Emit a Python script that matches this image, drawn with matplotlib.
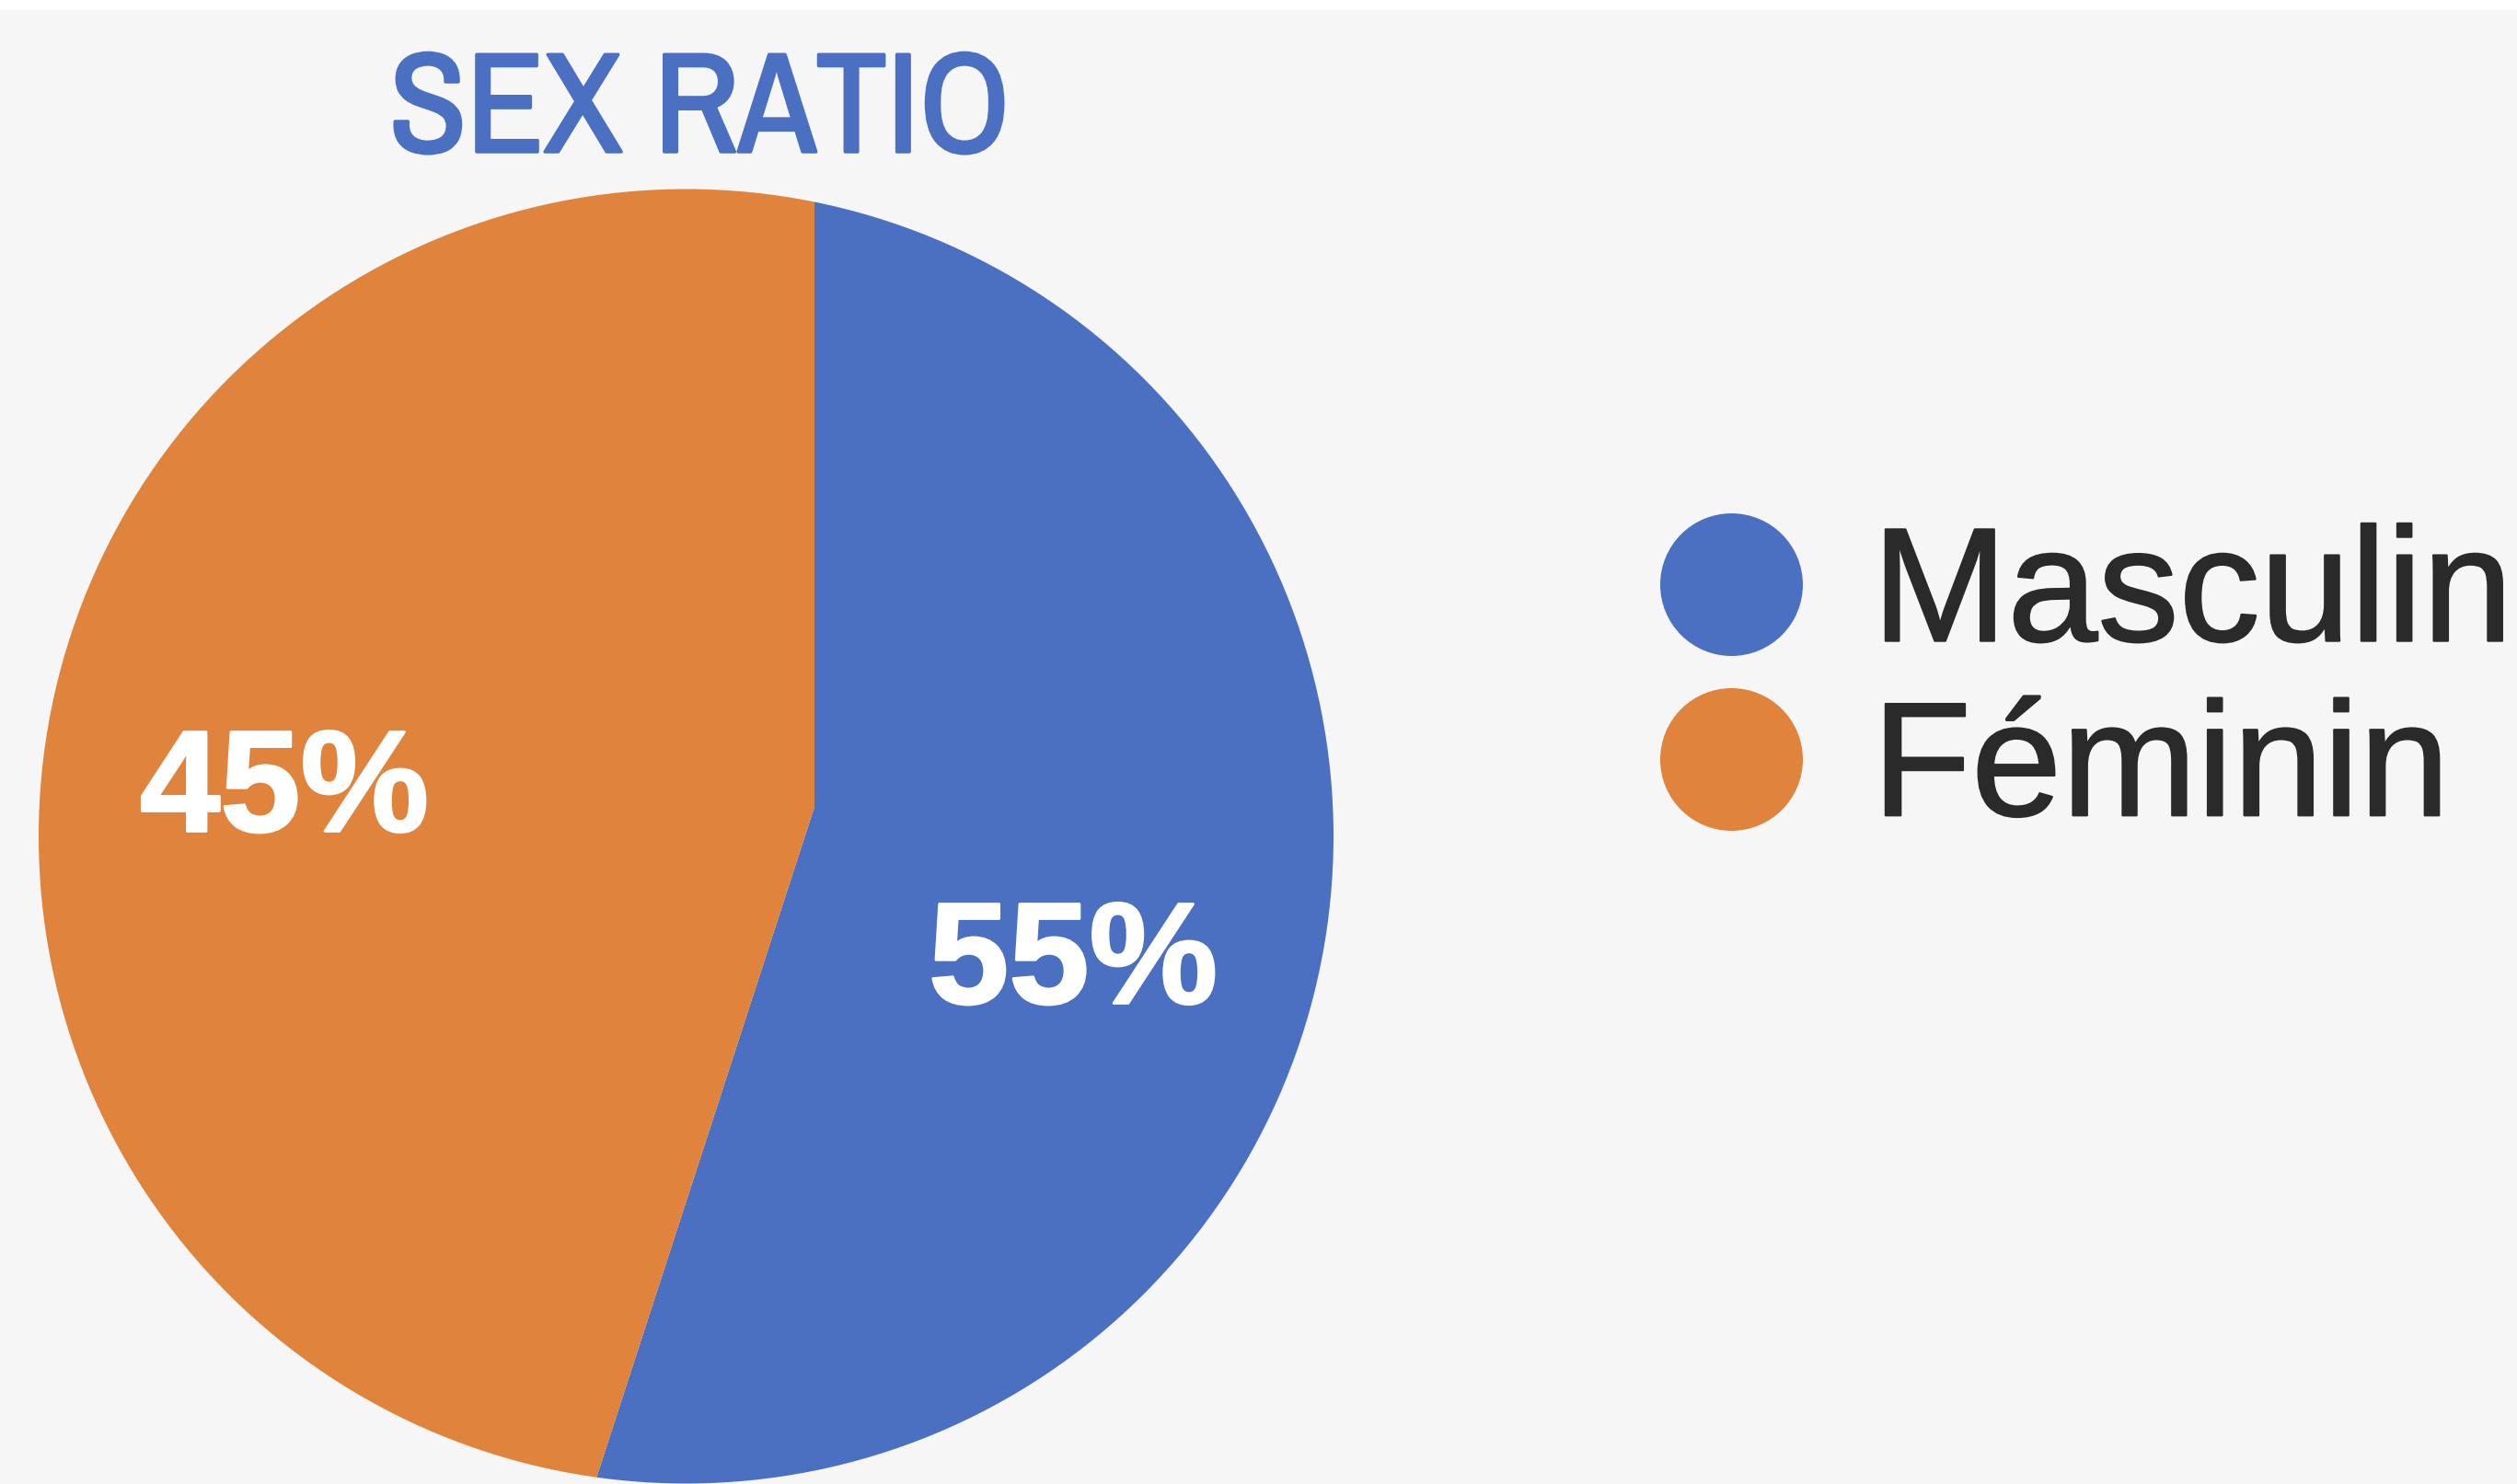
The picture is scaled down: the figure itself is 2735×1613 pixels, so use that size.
#!/usr/bin/env python3

from matplotlib import pyplot as plt
from matplotlib import font_manager
from matplotlib import patheffects as pe
from matplotlib.patches import Circle, Rectangle
from matplotlib.lines import Line2D

# data
labels = ['Masculin', 'Féminin']
shares = [55, 45]
colors = ['#4b70c1', '#e0833c']
title = 'SEX RATIO'

W, H = 2735, 1613

def narrow_font():
    '''Look for an installed narrow sans family, None if there is none'''
    names = sorted({f.name for f in font_manager.fontManager.ttflist})
    if 'Liberation Sans Narrow' in names:
        return 'Liberation Sans Narrow'
    for n in names:
        if 'Narrow' in n or 'Condensed' in n:
            return n
    return None

fig = plt.figure(figsize=(W / 100, H / 100), dpi=100, facecolor='white')
# light grey panel, thin white strip at the top
fig.patches.append(Rectangle((0, 0), 1, 1 - 11 / H, transform=fig.transFigure,
                             color='#f6f6f6', zorder=-1))

ax = fig.add_axes([0, 0, 1, 1])
ax.set_facecolor('none')

# the wedges meet off the circle centre, so draw a big pie from the apex
# and clip it to the visible disc
apex = (885, H - 877)
disc = Circle((745.5, H - 909), 703.5, transform=ax.transData)
wedges, _ = ax.pie(shares, colors=colors, startangle=90, counterclock=False,
                   center=apex, radius=900)
for w in wedges:
    w.set_clip_on(True)
    w.set_clip_path(disc)

ax.set_xlim(0, W)
ax.set_ylim(0, H)
ax.set_aspect('equal')
ax.axis('off')

# percentage labels
label_pos = [(1166, H - 1050), (309, H - 863)]
for (x, y), v in zip(label_pos, shares):
    ax.text(x, y, f'{v}%', color='white', fontsize=113, fontweight='bold',
            family='Liberation Sans', ha='center', va='center',
            path_effects=[pe.withStroke(linewidth=2, foreground='white')])

# a bit heavier strokes, the source fonts are thicker than what we have here
nf = narrow_font()
if nf:
    t = ax.text(760, H - 165, title, color='#4b70c1', fontsize=111, family=nf,
                ha='center', va='baseline')
else:
    t = ax.text(760, H - 163, title, color='#4b70c1', fontsize=96,
                family='Liberation Sans', ha='center', va='baseline')
t.set_path_effects([pe.withStroke(linewidth=2.5, foreground='#4b70c1')])

handles = [Line2D([], [], marker='o', ls='', markersize=111.6, color=c,
                  markeredgewidth=0) for c in colors]
leg = ax.legend(handles, labels, loc='center left',
                bbox_to_anchor=(1731, H - 746), bbox_transform=ax.transData,
                frameon=False, borderpad=0.4, borderaxespad=0,
                handlelength=0.9, handletextpad=0.42, labelspacing=0.14,
                prop={'family': 'Liberation Sans', 'size': 127},
                labelcolor='#2a2a2a')
for txt in leg.get_texts():
    txt.set_path_effects([pe.withStroke(linewidth=1.5, foreground='#2a2a2a')])

fig.savefig('out.png', dpi=100, facecolor=fig.get_facecolor())
